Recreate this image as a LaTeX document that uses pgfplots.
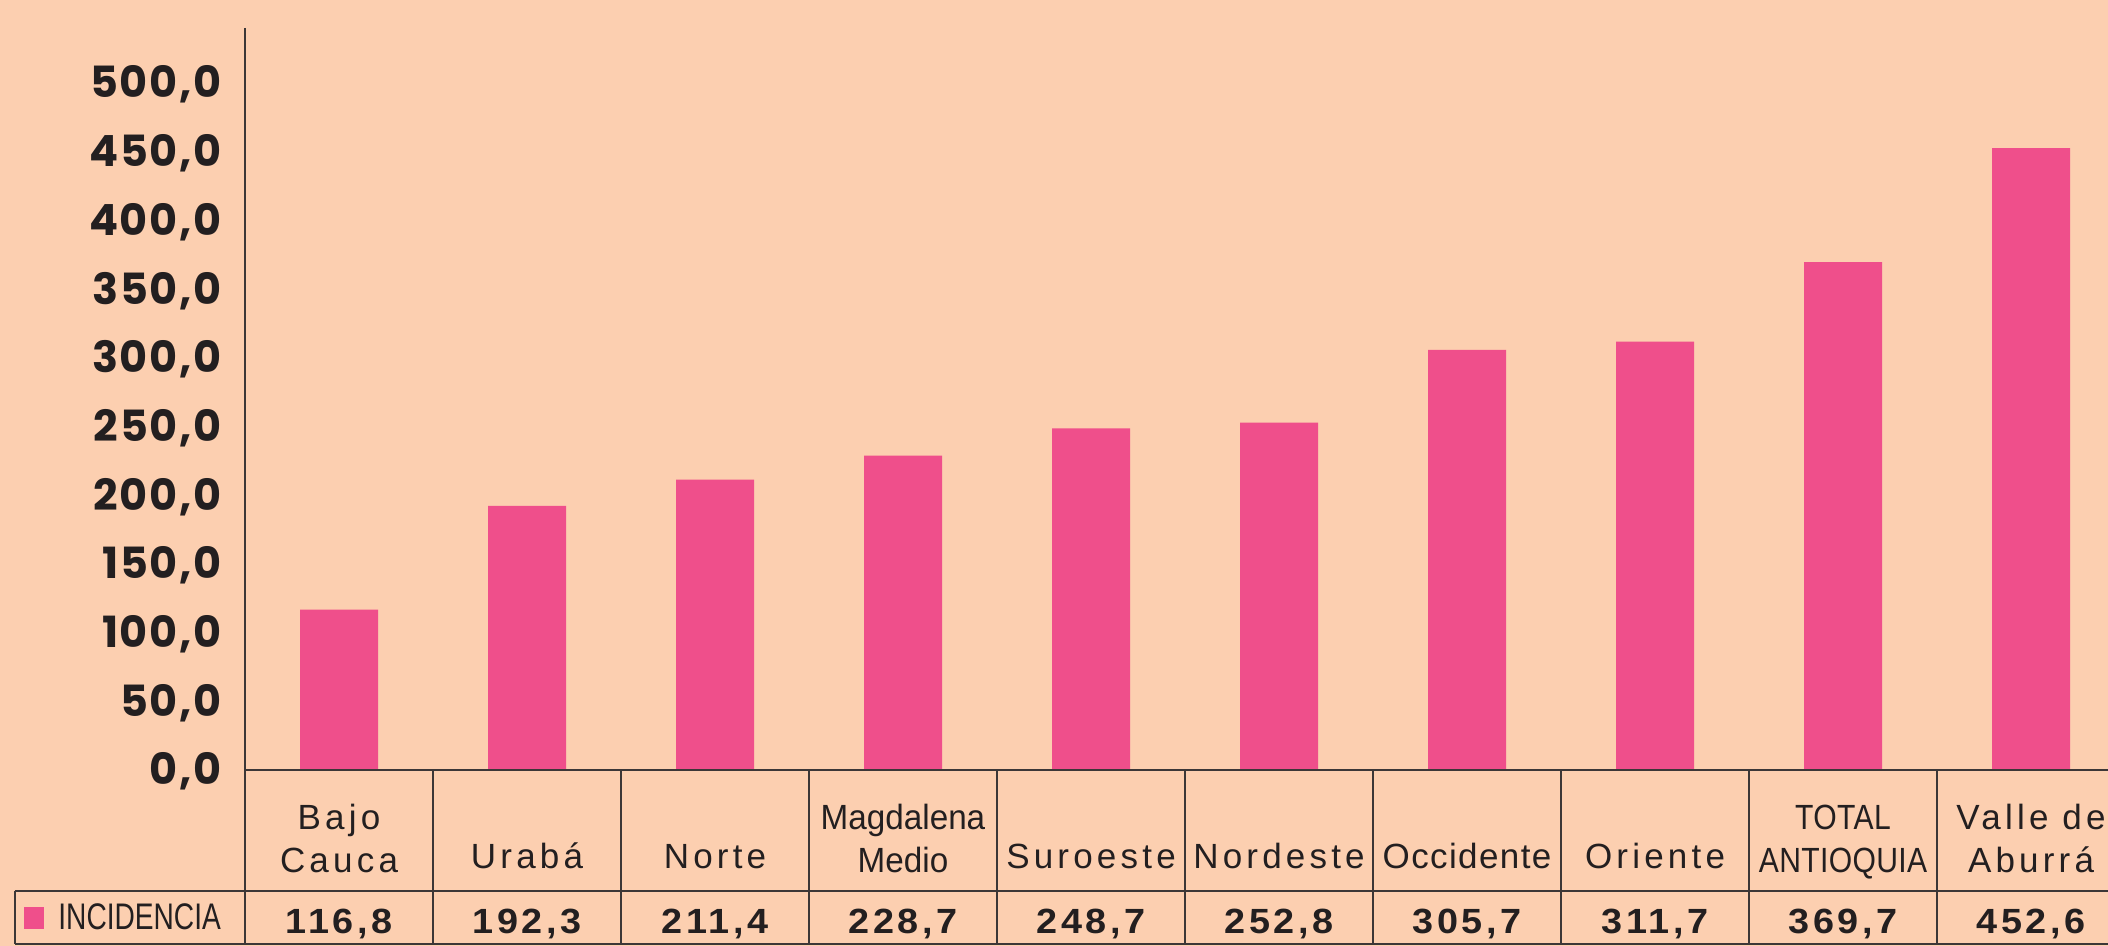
\documentclass[border=0pt]{standalone}
\usepackage{pgfplots}
\pgfplotsset{compat=1.18}
\usepackage{fontspec}
\setmainfont{Liberation Sans}
\newfontfamily\tickfont{Poppins}[LetterSpace=4]
\newfontfamily\catA{Liberation Sans}[LetterSpace=12]
\newfontfamily\catB{Liberation Sans}[LetterSpace=4]
\newfontfamily\catD{Liberation Sans}[FakeStretch=0.95]
\newfontfamily\catC{Liberation Sans}[FakeStretch=0.86, LetterSpace=1]
\newfontfamily\valfont{Liberation Sans}[FakeStretch=1.08, LetterSpace=10]
\newfontfamily\legfont{Liberation Sans}[FakeStretch=0.76]
\newcommand\lstrut{\rule[-4.3pt]{0pt}{10pt}}
\definecolor{bg}{RGB}{252,207,176}
\definecolor{barpink}{RGB}{239,79,139}
\definecolor{linec}{RGB}{60,55,55}
\definecolor{txt}{RGB}{35,31,32}
\begin{document}
\begin{tikzpicture}
\useasboundingbox (0,0) rectangle (1054pt,473pt);
\fill[bg] (0,0) rectangle (1054pt,473pt);
\begin{scope}
\clip (0,0) rectangle (1054pt,473pt);
\begin{axis}[
  at={(122.5pt,88pt)}, anchor=south west,
  scale only axis, width=931.5pt, height=371pt,
  xmin=-0.5, xmax=9.4096, ymin=0, ymax=540,
  axis line style={draw=none},
  tick style={draw=none},
  clip=false,
  ytick={0,50,...,500},
  yticklabel style={/pgf/number format/fixed, /pgf/number format/fixed zerofill, /pgf/number format/precision=1, /pgf/number format/use comma, /pgf/number format/1000 sep={}, /pgf/number format/assume math mode=true,
    font=\tickfont\bfseries\fontsize{21.5}{24}\selectfont, text=txt, anchor=base east, inner sep=0pt, xshift=-11.5pt, yshift=-7.5pt},
  xtick={0,1,2,3,4,5,6,7,8,9},
  xticklabels={
    {\catA Bajo\\\catA Cauca\lstrut},
    {\catA Urabá\strut},
    {\catA Norte\strut},
    {\catD Magdalena\\\catD Medio\lstrut},
    {\catA Suroeste\strut},
    {\catA Nordeste\strut},
    {\catB Occidente\strut},
    {\catA Oriente\strut},
    {\catC TOTAL\\\catC ANTIOQUIA\lstrut},
    {\catA Valle de\\\catA Aburrá\lstrut}},
  xticklabel style={font=\catA\fontsize{17.5}{21.5}\selectfont, text=txt, align=center, anchor=south, inner sep=0pt, yshift=-56pt},
]
\addplot[ybar, fill=barpink, draw=none, bar width=39pt] coordinates {
  (0,116.8) (1,192.3) (2,211.4) (3,228.7) (4,248.7)
  (5,252.8) (6,305.7) (7,311.7) (8,369.7) (9,452.6)};
% table lines
\draw[linec, line width=1pt] (axis cs:-0.5,540) -- (axis cs:-0.5,-126.6);
\draw[linec, line width=1pt] (axis cs:-0.5,0) -- (axis cs:9.7,0);
\draw[linec, line width=1pt] (axis cs:-1.7234,-88.06) -- (axis cs:9.7,-88.06);
\draw[linec, line width=1pt] (axis cs:-1.7234,-126.6) -- (axis cs:9.7,-126.6);
\draw[linec, line width=1pt] (axis cs:-1.7234,-88.06) -- (axis cs:-1.7234,-126.6);
\draw[linec, line width=1pt]
  (axis cs:0.5,0) -- (axis cs:0.5,-126.6)
  (axis cs:1.5,0) -- (axis cs:1.5,-126.6)
  (axis cs:2.5,0) -- (axis cs:2.5,-126.6)
  (axis cs:3.5,0) -- (axis cs:3.5,-126.6)
  (axis cs:4.5,0) -- (axis cs:4.5,-126.6)
  (axis cs:5.5,0) -- (axis cs:5.5,-126.6)
  (axis cs:6.5,0) -- (axis cs:6.5,-126.6)
  (axis cs:7.5,0) -- (axis cs:7.5,-126.6)
  (axis cs:8.5,0) -- (axis cs:8.5,-126.6);
% legend cell
\fill[barpink] (axis cs:-1.6755,-99.7) rectangle (axis cs:-1.5691,-115.7);
\node[font=\legfont\fontsize{18.5}{21}\selectfont, text=txt, anchor=base west, inner sep=0pt] at (axis cs:-1.4947,-116.4) {INCIDENCIA};
% values row
\tikzset{valstyle/.style={font=\valfont\bfseries\fontsize{17.5}{20}\selectfont, text=txt, anchor=base, inner sep=0pt}}
\node[valstyle] at (axis cs:0,-119.35) {116,8};
\node[valstyle] at (axis cs:1,-119.35) {192,3};
\node[valstyle] at (axis cs:2,-119.35) {211,4};
\node[valstyle] at (axis cs:3,-119.35) {228,7};
\node[valstyle] at (axis cs:4,-119.35) {248,7};
\node[valstyle] at (axis cs:5,-119.35) {252,8};
\node[valstyle] at (axis cs:6,-119.35) {305,7};
\node[valstyle] at (axis cs:7,-119.35) {311,7};
\node[valstyle] at (axis cs:8,-119.35) {369,7};
\node[valstyle] at (axis cs:9,-119.35) {452,6};
\end{axis}
\end{scope}
\end{tikzpicture}
\end{document}
